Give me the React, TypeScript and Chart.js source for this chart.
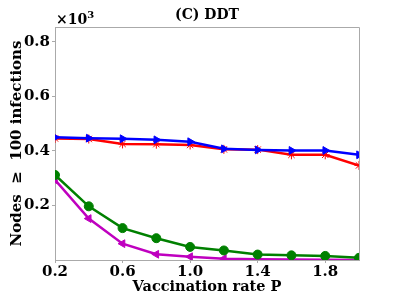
import React, { useEffect, useRef } from "react";
import { Chart, registerables } from "chart.js";

Chart.register(...registerables);

const xValues = [0.2, 0.4, 0.6, 0.8, 1.0, 1.2, 1.4, 1.6, 1.8, 2.0];
const blueValues = [0.45, 0.447, 0.445, 0.441, 0.434, 0.408, 0.404, 0.402, 0.402, 0.386];
const redValues = [0.446, 0.444, 0.426, 0.425, 0.422, 0.406, 0.405, 0.386, 0.386, 0.347];
const greenValues = [0.312, 0.197, 0.117, 0.08, 0.048, 0.035, 0.02, 0.017, 0.015, 0.008];
const magentaValues = [0.294, 0.152, 0.06, 0.021, 0.012, 0.005, 0.003, 0.002, 0.001, 0.0];
const xTicks = [0.2, 0.6, 1.0, 1.4, 1.8];
const yTicks = [0.2, 0.4, 0.6, 0.8];

const FONT = "'DejaVu Serif', serif";

const pts = (vals: number[]) => vals.map((v, i) => ({ x: xValues[i], y: v }));

const overlay = {
  id: "overlay",
  afterDraw(chart: any) {
    const ctx = chart.ctx;
    const a = chart.chartArea;
    ctx.save();
    ctx.fillStyle = "#000";
    ctx.font = `bold 14px ${FONT}`;
    ctx.textAlign = "center";
    ctx.textBaseline = "middle";
    ctx.fillText("(C) DDT", (a.left + a.right) / 2, 15);
    ctx.textAlign = "left";
    ctx.font = `bold 14px ${FONT}`;
    ctx.fillText("×10", a.left + 1, 20);
    const w = ctx.measureText("×10").width;
    ctx.font = `bold 10px ${FONT}`;
    ctx.fillText("3", a.left + 1 + w, 15);
    ctx.restore();
  },
};

export default function App() {
  const ref = useRef<HTMLCanvasElement>(null);
  useEffect(() => {
    if (!ref.current) return;
    const mk = (label: string, vals: number[], color: string, style: any, rot: number, r: number) => ({
      label,
      data: pts(vals),
      borderColor: color,
      backgroundColor: color,
      borderWidth: 2.5,
      pointStyle: style,
      rotation: rot,
      pointRadius: r,
      pointBorderWidth: 1,
      tension: 0,
    });
    const chart = new Chart(ref.current, {
      type: "line",
      data: {
        datasets: [
          mk("blue", blueValues, "#0000ff", "triangle", 90, 4.5),
          mk("red", redValues, "#ff0000", "star", 0, 4.5),
          mk("green", greenValues, "#008000", "circle", 0, 4.5),
          mk("magenta", magentaValues, "#bf00bf", "triangle", -90, 4.5),
        ] as any,
      },
      options: {
        animation: false,
        responsive: false,
        maintainAspectRatio: false,
        layout: { padding: { top: 27, right: 40, left: 0, bottom: 0 } },
        plugins: { legend: { display: false }, tooltip: { enabled: false }, title: { display: false } },
        scales: {
          x: {
            type: "linear",
            min: 0.2,
            max: 2.0,
            afterBuildTicks: (s: any) => {
              s.ticks = xTicks.map((v) => ({ value: v }));
            },
            afterFit: (s: any) => {
              s.height = 40;
            },
            ticks: {
              color: "#000",
              font: { family: FONT, weight: "bold", size: 15 },
              padding: 0,
              maxRotation: 0,
              callback: (v: any) => Number(v).toFixed(1),
            },
            grid: { display: true, drawOnChartArea: false, drawTicks: true, tickLength: 3, color: "#aaa" },
            border: { color: "#aaa", width: 1 },
            title: {
              display: true,
              text: "Vaccination rate P",
              color: "#000",
              font: { family: FONT, weight: "bold", size: 14.5 },
              padding: { top: 0, bottom: 4 },
            },
          },
          y: {
            type: "linear",
            min: 0,
            max: 0.855,
            afterBuildTicks: (s: any) => {
              s.ticks = yTicks.map((v) => ({ value: v }));
            },
            afterFit: (s: any) => {
              s.width = 55;
            },
            ticks: {
              color: "#000",
              font: { family: FONT, weight: "bold", size: 15 },
              padding: 2,
              callback: (v: any) => Number(v).toFixed(1),
            },
            grid: { display: true, drawOnChartArea: false, drawTicks: true, tickLength: 3, color: "#aaa" },
            border: { color: "#aaa", width: 1 },
            title: {
              display: true,
              text: "Nodes  ≥  100 infections",
              color: "#000",
              font: { family: FONT, weight: "bold", size: 15 },
              padding: { top: 8, bottom: 0 },
            },
          },
        } as any,
      },
      plugins: [
        overlay,
        {
          id: "frame",
          afterDatasetsDraw(chart: any) {
            const ctx = chart.ctx;
            const a = chart.chartArea;
            ctx.save();
            ctx.strokeStyle = "#aaa";
            ctx.lineWidth = 1;
            ctx.beginPath();
            ctx.moveTo(a.left, a.top + 0.5);
            ctx.lineTo(a.right + 0.5, a.top + 0.5);
            ctx.lineTo(a.right + 0.5, a.bottom);
            ctx.stroke();
            ctx.restore();
          },
        },
      ],
    });
    return () => chart.destroy();
  }, []);
  return (
    <div style={{ position: "absolute", left: 0, top: 0, width: 399, height: 300, background: "#fff" }}>
      <canvas ref={ref} width={399} height={300} style={{ width: 399, height: 300 }} />
    </div>
  );
}
